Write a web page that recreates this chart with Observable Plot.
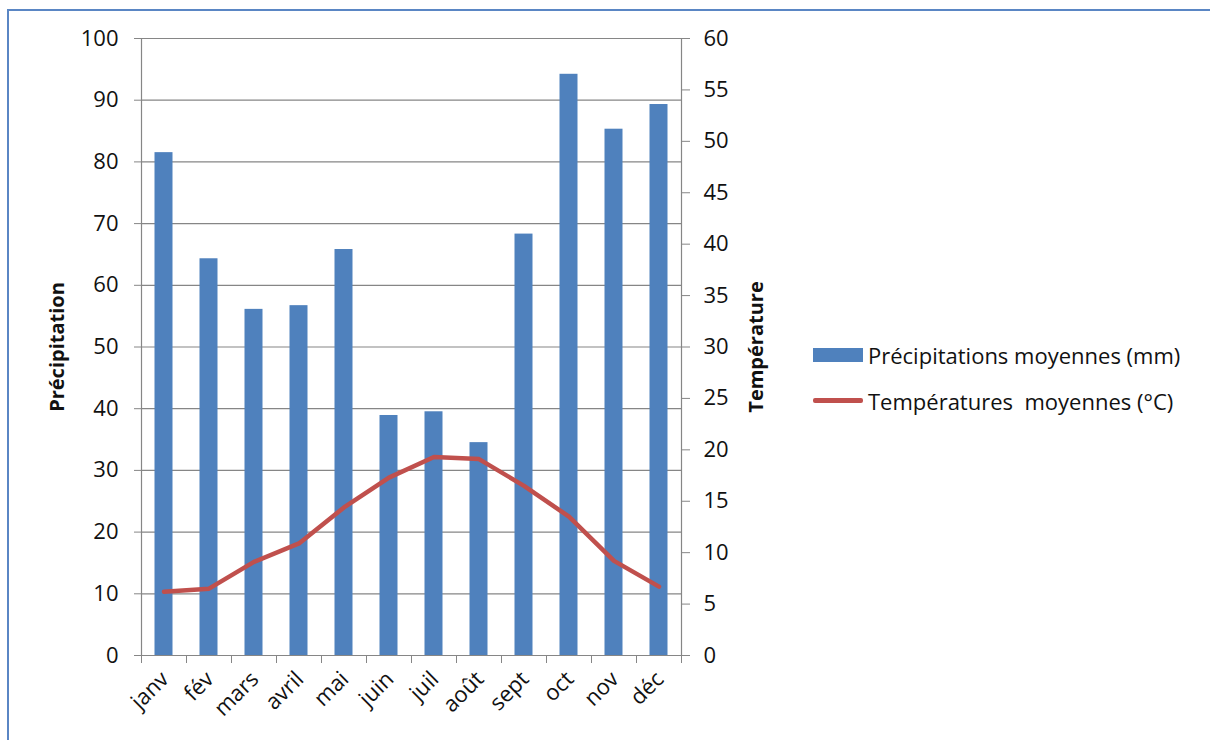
<!DOCTYPE html>
<html lang="fr">
<head>
<meta charset="utf-8">
<script src="https://cdn.jsdelivr.net/npm/d3@7"></script>
<script src="https://cdn.jsdelivr.net/npm/@observablehq/plot@0.6"></script>
<style>
  html, body { margin: 0; padding: 0; background: #fff; overflow: hidden; }
  body { width: 1210px; height: 740px; position: relative; font-family: "Open Sans", sans-serif; }
  #frame { position: absolute; left: 7px; top: 9px; width: 1300px; height: 800px;
           border: 2px solid #5a86c4; box-sizing: border-box; }
  #chart { position: absolute; left: 0; top: 0; }
  #legend { position: absolute; left: 813px; top: 339px; font-size: 22px; color: #111; }
  .item { display: flex; align-items: center; height: 31px; margin-bottom: 15px; white-space: pre; }
  .swatch-bar { width: 50px; height: 14px; background: #4f81bd; margin-right: 5px; }
  .swatch-line { width: 50px; height: 4.5px; background: #c0504d; border-radius: 2px; margin-right: 5px; }
</style>
</head>
<body>
<div id="frame"></div>
<div id="chart"></div>
<div id="legend">
  <div class="item"><span class="swatch-bar"></span>Précipitations moyennes (mm)</div>
  <div class="item"><span class="swatch-line"></span>Températures  moyennes (°C)</div>
</div>
<script>
// Monthly climate normals
const months = ["janv", "fév", "mars", "avril", "mai", "juin", "juil", "août", "sept", "oct", "nov", "déc"];
const precipitation = [81.5, 64.3, 56.1, 56.7, 65.8, 38.9, 39.5, 34.5, 68.3, 94.2, 85.3, 89.3]; // mm
const temperature = [6.2, 6.5, 9.1, 10.9, 14.4, 17.3, 19.3, 19.1, 16.5, 13.5, 9.2, 6.7];      // °C

// Axis ranges: precipitation 0–100 on the left, temperature 0–60 on the right
const precipTicks = d3.range(0, 101, 10);
const tempTicks = d3.range(0, 61, 5);
const precipMax = 100, tempMax = 60;
const toPrecip = t => t * precipMax / tempMax;   // temperature → left-axis units

const rows = months.map((m, i) => ({i, month: m, precip: precipitation[i], temp: temperature[i]}));

const gray = "#868686";
const chart = Plot.plot({
  width: 1210,
  height: 740,
  marginLeft: 141,
  marginRight: 529,
  marginTop: 38,
  marginBottom: 85,
  style: {fontFamily: "Open Sans, sans-serif", fontSize: "22px", color: "#111", background: "transparent"},
  x: {type: "linear", domain: [0, months.length]},
  y: {domain: [0, precipMax]},
  marks: [
    Plot.gridY(precipTicks.filter(d => d > 0), {stroke: gray, strokeOpacity: 1, strokeWidth: 1.2}),
    Plot.rectY(rows, {x1: d => d.i + 0.3, x2: d => d.i + 0.7, y: "precip", fill: "#4f81bd"}),
    Plot.line(rows, {x: d => d.i + 0.5, y: d => toPrecip(d.temp), stroke: "#c0504d",
                     strokeWidth: 4.5, strokeLinejoin: "round", strokeLinecap: "round"}),
    // axis lines
    Plot.ruleX([0, months.length], {stroke: gray, strokeWidth: 1.2}),
    Plot.ruleY([0], {stroke: gray, strokeWidth: 1.2}),
    // left axis (precipitation)
    Plot.axisY({ticks: precipTicks, tickSize: 7, tickPadding: 16, stroke: gray, label: null}),
    // right axis (temperature)
    Plot.axisY({anchor: "right", ticks: tempTicks.map(toPrecip), tickFormat: d => Math.round(d * tempMax / precipMax),
                tickSize: 8, tickPadding: 14, stroke: gray, label: null}),
    // category boundary ticks
    Plot.axisX({ticks: d3.range(0, months.length + 1), tickFormat: () => "", tickSize: 8, stroke: gray, label: null}),
    // month labels
    Plot.axisX({ticks: months.map((m, i) => i + 0.5), tickFormat: d => months[Math.floor(d)], tickSize: 0,
                tickPadding: 20, tickRotate: -45, label: null, dx: 1}),
    // axis titles
    Plot.text(["Précipitation"], {frameAnchor: "left", textAnchor: "middle", rotate: -90, dx: -84,
                                  fontWeight: "bold", fontSize: 20, fill: "#111"}),
    Plot.text(["Température"], {frameAnchor: "right", textAnchor: "middle", rotate: -90, dx: 75,
                                 fontWeight: "bold", fontSize: 20, fill: "#111"})
  ]
});
document.getElementById("chart").append(chart);
</script>
</body>
</html>
